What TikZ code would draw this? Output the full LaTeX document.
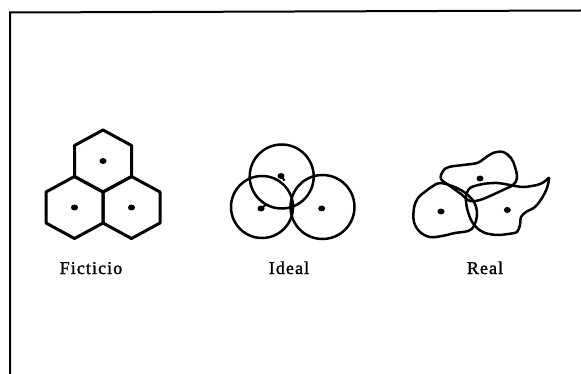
\documentclass[tikz,border=0pt]{standalone}
\usepackage{fontspec}
\usetikzlibrary{shapes.geometric}
\setmainfont{Liberation Serif}
\newfontfamily\lblfont[FakeBold=1.5,LetterSpace=6]{Liberation Serif}
\begin{document}
\begin{tikzpicture}[x=1pt,y=-1pt,
  frameline/.style={line width=2pt},
  hexline/.style={line width=3pt,line join=round},
  circline/.style={line width=2.5pt},
  blobline/.style={line width=2.5pt,line join=round},
  centre/.style={ellipse,fill=black,inner sep=0pt,minimum width=7pt,minimum height=6pt},
  lbl/.style={font=\lblfont\fontsize{18}{20}\selectfont,anchor=base,inner sep=0pt}]
\useasboundingbox (0,0) rectangle (581,374);
% frame
\coordinate (fc) at (10,12.5);
\coordinate (fr) at (581,10.5);
\coordinate (fb) at (10,374);
\draw[frameline] (fb) -- (fc) -- (fr);
% --- Ficticio: hexagons
\foreach \cx/\cy/\n in {103/161/ht,74.5/207.5/hl,131.5/207.5/hr}{
  \draw[hexline] (\cx,\cy-31) -- (\cx+28.5,\cy-15.5) -- (\cx+28.5,\cy+15.5)
     -- (\cx,\cy+31) -- (\cx-28.5,\cy+15.5) -- (\cx-28.5,\cy-15.5) -- cycle;
  \node[centre] (\n) at (\cx,\cy) {};
}
% --- Ideal: circles
\draw[circline] (281.7,176.5) circle[radius=32];
\draw[circline] (262,207) circle[radius=31];
\draw[circline] (322.5,207) circle[radius=32];
\node[centre] (ct) at (281,176) {};
\node[centre] (cl) at (261,208.5) {};
\node[centre] (cr) at (321.7,208.5) {};
\draw[line width=2pt] (ct.center) -- ++(3.5,4.5);
\draw[line width=2pt] (cl.center) -- ++(4.5,-3.5);
% --- Real: irregular blobs
\draw[blobline] plot[smooth cycle,tension=0.6] coordinates {
  (441,179) (443,171) (449,167) (463,165) (477,163) (485,158) (493,153)
  (503,152) (511,158) (515,167) (517,178) (513,185) (503,190) (490,196)
  (480,200) (470,201) (461,194) (450,186)};
\draw[blobline] plot[smooth cycle,tension=0.6] coordinates {
  (440,183) (452,186) (464,192) (474,202) (477,214) (474,226) (468,231)
  (455,233) (442,236) (430,237) (420,232) (414,222) (414,208) (418,198)
  (426,191) (433,186)};
\draw[blobline] plot[smooth cycle,tension=0.5] coordinates {
  (470,188) (483,184) (497,183) (510,185) (523,187) (537,185) (544,182)
  (549,178) (547,188) (542,198) (535,207) (526,212) (521,217) (520,225)
  (517,232) (508,234) (497,235) (485,233) (477,228) (471,220) (467,208)
  (466,197)};
\node[centre] (rt) at (480,178.5) {};
\node[centre] (rl) at (441,211.5) {};
\node[centre] (rr) at (507.3,210) {};
% labels
\node[lbl] (lf) at (91,274) {Ficticio};
\node[lbl] (li) at (289,274) {Ideal};
\node[lbl] (lr) at (485,274) {Real};
\end{tikzpicture}
\end{document}
